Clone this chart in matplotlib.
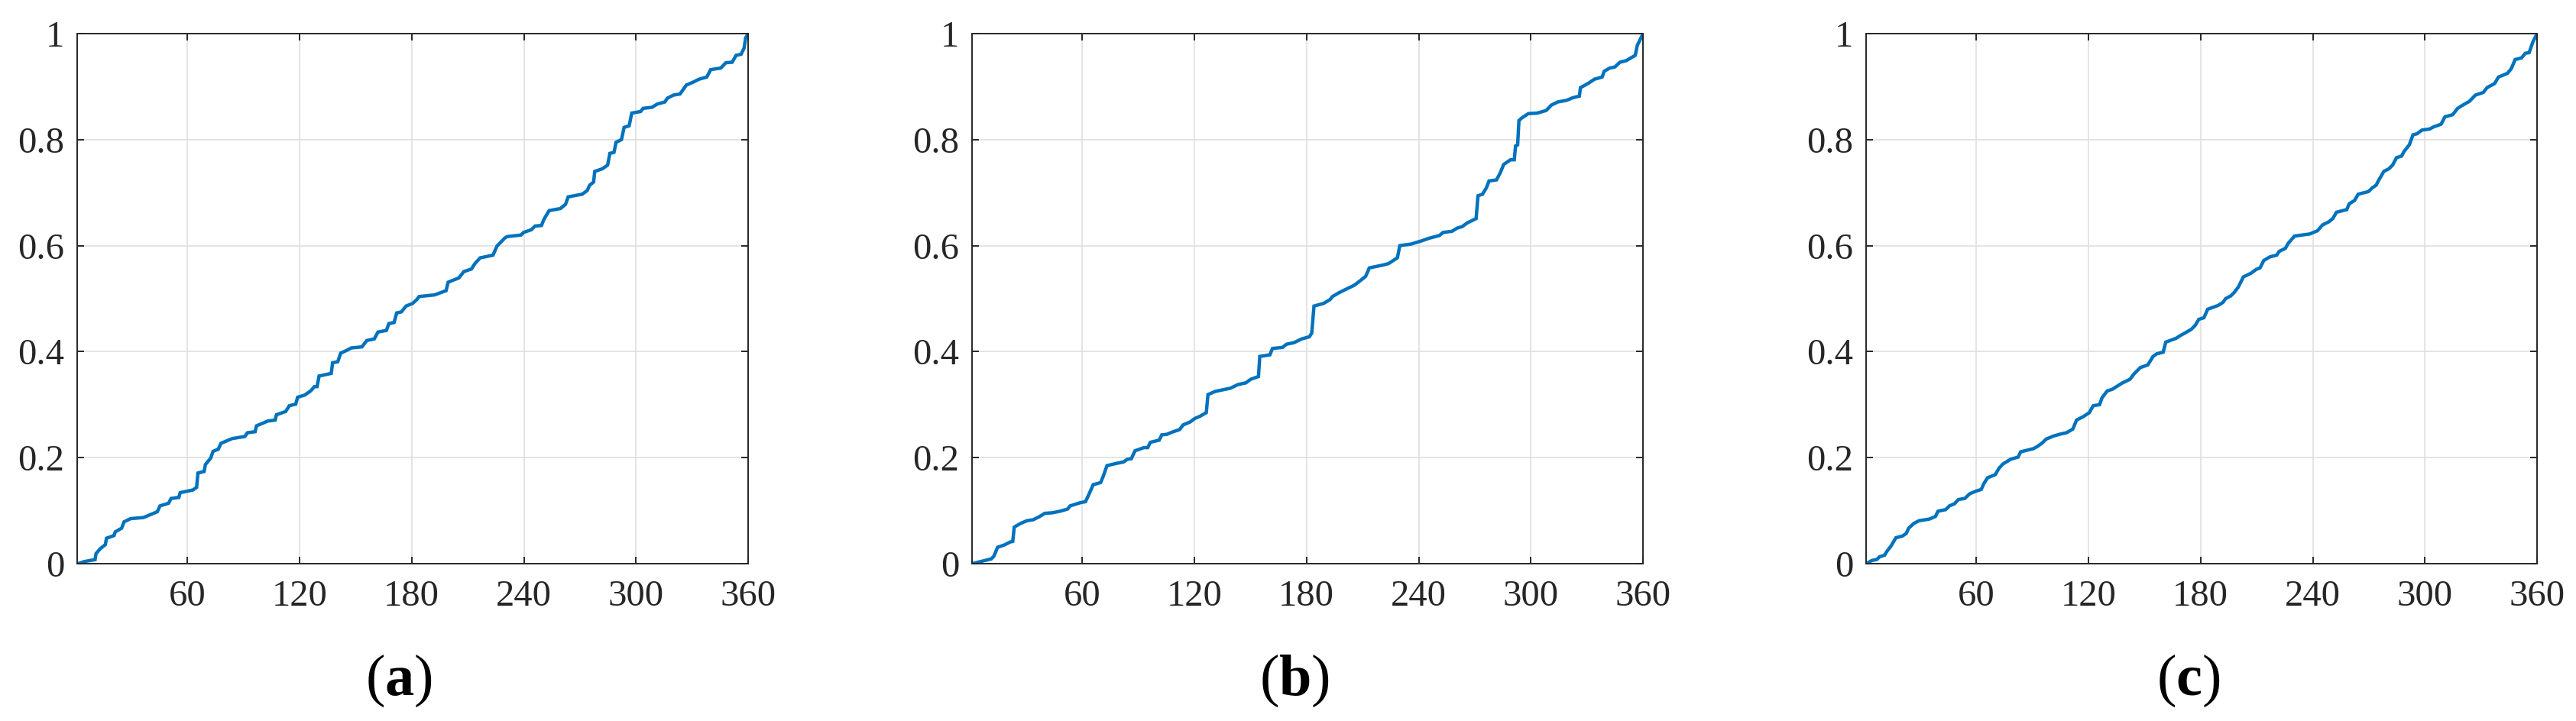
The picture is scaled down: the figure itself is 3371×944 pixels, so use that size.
import matplotlib
matplotlib.use("Agg")
import matplotlib.pyplot as plt

plt.rcParams["font.family"] = ["Liberation Serif", "DejaVu Serif"]
plt.rcParams["mathtext.fontset"] = "custom"
plt.rcParams["mathtext.rm"] = "Liberation Serif"
plt.rcParams["mathtext.bf"] = "Liberation Serif:bold"

# panel (a)
a_deg = [1.4, 5, 10.7, 11.2, 13.4, 16.2, 16.8, 20.8, 21.5, 24.9, 26.2, 29.7, 36.5, 44, 45.4,
         50, 51.3, 55.5, 56.2, 63, 65, 65.7, 69, 69.7, 72.5, 73.8, 76.6, 78, 84, 90.8, 92.2,
         96.3, 97, 103, 107, 107.7, 112.6, 114.6, 118, 119, 122.8, 126, 128, 129.4, 130.5,
         137, 137.7, 140.5, 142, 145, 147.7, 153.4, 156, 160, 162, 166.5, 167.8, 170.6, 172,
         174.5, 177, 180.5, 182.7, 184, 192.2, 198.4, 199.5, 205.2, 207.9, 212, 214, 216.7,
         223.5, 225.6, 229.7, 231, 238.5, 239.9, 244, 246, 249.4, 250.8, 253.5, 259.6, 262.3,
         263.7, 271.2, 273.9, 275.2, 277.3, 277.9, 282, 284.8, 286, 288.2, 289.3, 292.2, 293.6,
         296.3, 297.7, 302.4, 303.8, 308.6, 311.3, 315.4, 316.7, 320, 323.5, 326.9, 330.3,
         333.7, 337.8, 339.9, 345.3, 348, 351.4, 353.5, 356.2, 357.8, 358.6, 360]
a_cdf = [0, 0.004, 0.0077, 0.019, 0.028, 0.036, 0.048, 0.053, 0.06, 0.067, 0.079, 0.085, 0.087,
         0.098, 0.109, 0.114, 0.123, 0.125, 0.134, 0.139, 0.144, 0.171, 0.174, 0.187, 0.199,
         0.212, 0.216, 0.227, 0.236, 0.240, 0.247, 0.249, 0.26, 0.269, 0.271, 0.281, 0.287,
         0.298, 0.301, 0.314, 0.318, 0.326, 0.334, 0.334, 0.354, 0.359, 0.379, 0.381, 0.397,
         0.402, 0.407, 0.409, 0.421, 0.424, 0.437, 0.44, 0.453, 0.455, 0.473, 0.475, 0.486,
         0.491, 0.498, 0.504, 0.507, 0.515, 0.531, 0.539, 0.551, 0.556, 0.567, 0.577, 0.582,
         0.599, 0.614, 0.617, 0.620, 0.625, 0.63, 0.637, 0.638, 0.650, 0.666, 0.67, 0.678,
         0.692, 0.697, 0.704, 0.714, 0.72, 0.74, 0.745, 0.752, 0.774, 0.776, 0.795, 0.80, 0.823,
         0.826, 0.85, 0.853, 0.859, 0.861, 0.867, 0.871, 0.878, 0.884, 0.886, 0.903, 0.908,
         0.914, 0.918, 0.932, 0.935, 0.945, 0.946, 0.959, 0.961, 0.973, 0.992, 1.0]

# panel (b)
b_deg = [1.2, 11.4, 12.8, 14.8, 18.2, 21.6, 22.9, 23.7, 27.1, 30.5, 33.9, 37.3, 40, 44.1, 48.2,
         52.2, 53.6, 59, 61.8, 63.8, 65.9, 69.9, 71.3, 73.3, 78.1, 82.2, 84.2, 86.3, 88.3, 93.1,
         95.1, 96.5, 101.2, 102.6, 105.3, 108, 112.1, 114.1, 117.6, 120.3, 123, 126.4, 127.3,
         131.2, 135.2, 139.3, 143.4, 147.5, 150.2, 154.3, 155, 160.4, 161.8, 167.2, 169.3,
         173.3, 177.4, 181.5, 182.8, 184, 189.1, 192.5, 193.9, 197.3, 200.7, 205.4, 208.8,
         211.6, 213.6, 220.4, 223.8, 228.6, 229.9, 236, 241.5, 245.6, 251, 253.1, 257.8, 260.5,
         263.3, 266, 270.7, 271.7, 274.1, 276.2, 277.6, 281.6, 283.7, 285.4, 289.1, 291.1,
         291.8, 292.9, 293.6, 295.2, 298.6, 303.4, 308.2, 310.9, 314.3, 319, 322.4, 325.9,
         326.5, 330.6, 334, 338.1, 339.2, 342.2, 344.9, 347.6, 351, 355.8, 356.9, 358.2, 360]
b_cdf = [0, 0.009, 0.014, 0.031, 0.035, 0.041, 0.042, 0.069, 0.076, 0.081, 0.083, 0.089, 0.095,
         0.096, 0.099, 0.103, 0.109, 0.115, 0.117, 0.132, 0.149, 0.153, 0.165, 0.185, 0.189,
         0.192, 0.197, 0.198, 0.213, 0.219, 0.219, 0.229, 0.233, 0.243, 0.244, 0.248, 0.253,
         0.262, 0.267, 0.274, 0.278, 0.285, 0.319, 0.325, 0.328, 0.331, 0.338, 0.341, 0.348,
         0.353, 0.391, 0.394, 0.406, 0.408, 0.414, 0.417, 0.424, 0.428, 0.435, 0.486, 0.491,
         0.498, 0.504, 0.511, 0.517, 0.525, 0.534, 0.542, 0.558, 0.563, 0.566, 0.577, 0.600,
         0.603, 0.609, 0.614, 0.619, 0.625, 0.627, 0.633, 0.636, 0.643, 0.651, 0.694, 0.697,
         0.709, 0.722, 0.724, 0.738, 0.753, 0.762, 0.762, 0.788, 0.790, 0.836, 0.841, 0.849,
         0.850, 0.855, 0.865, 0.871, 0.874, 0.879, 0.882, 0.898, 0.906, 0.914, 0.918, 0.929,
         0.935, 0.937, 0.946, 0.949, 0.959, 0.978, 0.987, 1.0]

# panel (c)
c_deg = [1.1, 4.2, 6.9, 8.3, 11, 12.4, 14.4, 17.1, 20.5, 22.6, 23.9, 26.7, 29.4, 34.8, 38.2, 39.6,
         43.7, 45.7, 48.4, 50.5, 53.9, 56.6, 60, 62.7, 64.1, 66.1, 70.2, 72.2, 74.3, 78.4, 82.4,
         83.8, 90.6, 92.7, 95.4, 97.4, 101.5, 105.6, 108.3, 111.7, 113.7, 117.1, 120.5, 122.6,
         126, 127.3, 130.1, 132.8, 138.2, 142.3, 144.4, 147.8, 151.8, 154.6, 156.6, 160, 161.4,
         166.8, 169.5, 171.6, 175, 177, 179.1, 181.8, 183.8, 189.3, 192, 193.4, 196.1, 198.1,
         200.2, 202.9, 207, 209.7, 211.8, 213.8, 217.2, 220.7, 222, 225.4, 226.8, 230.2, 234.3,
         238.4, 242.5, 245.2, 248.6, 250.7, 252.7, 258.2, 259.5, 262.3, 264.3, 269.8, 271.8,
         273.9, 275.2, 278, 280.7, 282.7, 284.8, 287.5, 288.9, 291.6, 293.6, 295.7, 298.4,
         302.5, 304.6, 308.6, 310.7, 314.8, 317.5, 320.2, 323.7, 327, 331.2, 333.2, 337.3,
         339.3, 344.1, 346.2, 348.2, 351.6, 353.7, 355.7, 357.8, 360]
c_cdf = [0, 0.006, 0.008, 0.013, 0.016, 0.024, 0.033, 0.049, 0.052, 0.057, 0.067, 0.076, 0.081,
         0.084, 0.089, 0.099, 0.102, 0.109, 0.113, 0.121, 0.123, 0.132, 0.137, 0.140, 0.151,
         0.162, 0.168, 0.18, 0.188, 0.197, 0.201, 0.211, 0.217, 0.221, 0.228, 0.235, 0.241,
         0.245, 0.247, 0.254, 0.271, 0.277, 0.285, 0.298, 0.3, 0.313, 0.326, 0.329, 0.341,
         0.348, 0.358, 0.37, 0.375, 0.391, 0.396, 0.399, 0.418, 0.425, 0.431, 0.435, 0.442,
         0.449, 0.461, 0.464, 0.480, 0.487, 0.493, 0.5, 0.505, 0.512, 0.522, 0.541, 0.548,
         0.555, 0.558, 0.572, 0.579, 0.582, 0.589, 0.595, 0.604, 0.618, 0.62, 0.622, 0.628,
         0.639, 0.645, 0.651, 0.663, 0.668, 0.679, 0.685, 0.697, 0.702, 0.709, 0.714, 0.723,
         0.74, 0.745, 0.752, 0.766, 0.769, 0.778, 0.79, 0.809, 0.811, 0.818, 0.82, 0.824, 0.829,
         0.843, 0.847, 0.859, 0.865, 0.872, 0.884, 0.889, 0.898, 0.906, 0.918, 0.925, 0.934,
         0.951, 0.954, 0.963, 0.964, 0.985, 1.0]

panels = [(a_deg, a_cdf, "a"), (b_deg, b_cdf, "b"), (c_deg, c_cdf, "c")]
x_ticks = [60, 120, 180, 240, 300, 360]
y_ticks = [0, 0.2, 0.4, 0.6, 0.8, 1]
y_labels = ["0", "0.2", "0.4", "0.6", "0.8", "1"]

dark = "#262626"
fig = plt.figure(figsize=(33.71, 9.44), dpi=100)
lefts = [0.02987, 0.37725, 0.72432]
label_x = [0.1549, 0.5025, 0.8496]

for (xd, yd, tag), left, lx in zip(panels, lefts, label_x):
    ax = fig.add_axes([left, 0.2182, 0.2606, 0.7352])
    ax.plot(xd, yd, color="#0072BD", lw=3.2, solid_joinstyle="miter")
    ax.set_xlim(1, 360)
    ax.set_ylim(0, 1)
    ax.set_xticks(x_ticks)
    ax.set_yticks(y_ticks)
    ax.set_yticklabels(y_labels)
    ax.grid(True, color="#dfdfdf", lw=1.2)
    ax.set_axisbelow(True)
    for sp in ax.spines.values():
        sp.set_color(dark)
        sp.set_linewidth(1.4)
    ax.tick_params(direction="in", length=6.7, width=1.4, color=dark, labelcolor=dark,
                   labelsize=35, top=True, right=True)
    ax.tick_params(axis="x", pad=15)
    ax.tick_params(axis="y", pad=12)
    fig.text(lx, 0.036, "($\\mathbf{%s}$)" % tag, ha="center", va="baseline",
             fontsize=55, color="black")

fig.savefig("out.png", dpi=100)
